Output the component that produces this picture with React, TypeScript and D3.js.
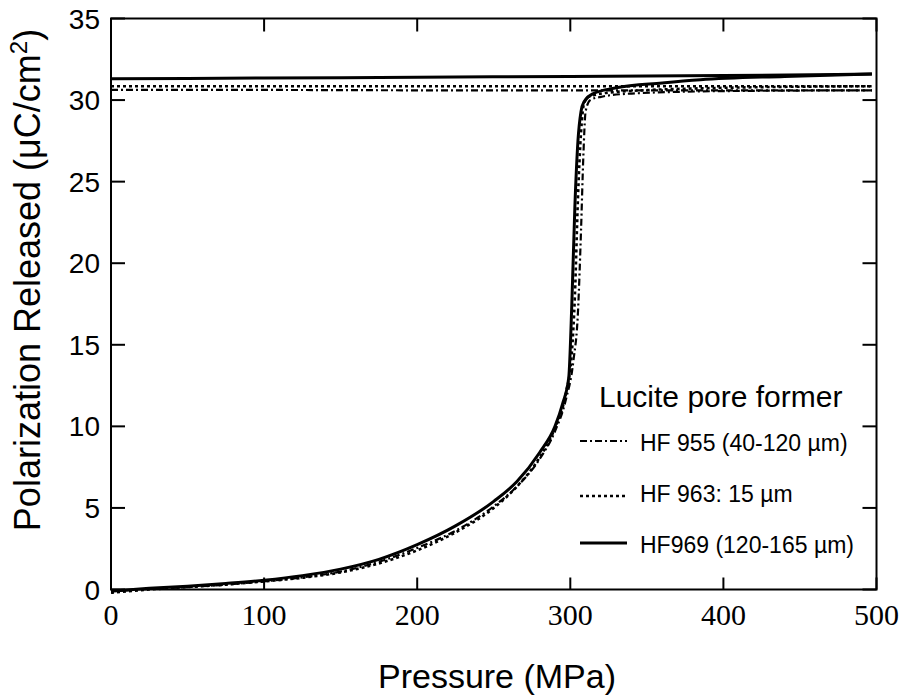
import React from "react";
import * as d3 from "d3";

// ---- data ----
const xTicks = [0, 100, 200, 300, 400, 500];
const yTicks = [0, 5, 10, 15, 20, 25, 30, 35];

// HF969 (solid) loading branch
const hf969UpP = [0, 25, 50, 75, 100, 125, 150, 175, 200, 225, 250, 265, 280, 290, 295, 299, 301, 303, 305, 307, 309, 315, 330, 360, 385, 440, 497];
const hf969UpV = [-0.1, 0.07, 0.2, 0.37, 0.57, 0.85, 1.25, 1.85, 2.75, 3.9, 5.4, 6.6, 8.4, 10.0, 11.4, 13.0, 17.5, 23.5, 27.5, 29.3, 29.9, 30.4, 30.75, 31.05, 31.25, 31.45, 31.6];
// HF969 return branch
const hf969DnP = [0, 100, 200, 300, 400, 497];
const hf969DnV = [31.3, 31.35, 31.4, 31.45, 31.5, 31.6];

// HF963 (dotted)
const hf963UpP = [0, 25, 50, 75, 100, 125, 150, 175, 200, 225, 250, 265, 280, 290, 297, 301, 303, 305, 307, 309, 312, 330, 400, 497];
const hf963UpV = [-0.2, 0.0, 0.15, 0.3, 0.5, 0.72, 1.05, 1.6, 2.4, 3.5, 5.0, 6.3, 8.1, 9.9, 12.0, 14.5, 18.0, 24.0, 28.0, 29.8, 30.2, 30.5, 30.75, 30.85];
const hf963DnP = [0, 100, 200, 300, 400, 497];
const hf963DnV = [30.85, 30.85, 30.85, 30.85, 30.85, 30.85];

// HF955 (dash-dot)
const hf955UpP = [0, 25, 50, 75, 100, 125, 150, 175, 200, 225, 250, 265, 280, 290, 297, 302, 305, 307, 308.5, 310, 313, 320, 340, 400, 497];
const hf955UpV = [-0.1, 0.03, 0.15, 0.3, 0.5, 0.74, 1.1, 1.7, 2.55, 3.6, 5.1, 6.3, 8.0, 9.7, 11.6, 14.0, 17.0, 22.0, 26.5, 29.3, 30.0, 30.2, 30.4, 30.55, 30.6];
const hf955DnP = [0, 100, 200, 300, 400, 497];
const hf955DnV = [30.62, 30.62, 30.6, 30.6, 30.6, 30.6];

const legendLabels = ["HF 955 (40-120 µm)", "HF 963: 15 µm", "HF969 (120-165 µm)"];
const legendTitle = "Lucite pore former";

// ---- layout ----
const W = 899, H = 698;
const L = 111, R = 876.5, T = 18.5, B = 589.5;

const x = d3.scaleLinear().domain([0, 500]).range([L, R]);
const y = d3.scaleLinear().domain([0, 35]).range([B, T]);

const line = d3
  .line<[number, number]>()
  .x((d) => x(d[0]))
  .y((d) => y(d[1]))
  .curve(d3.curveMonotoneX);

const zip = (a: number[], b: number[]): [number, number][] => a.map((v, i) => [v, b[i]]);

const styles = [
  { dash: "7,3,2,3", width: 2.2 },
  { dash: "3,3", width: 2.6 },
  { dash: "none", width: 3 },
];

const series = [
  { up: zip(hf955UpP, hf955UpV), dn: zip(hf955DnP, hf955DnV), st: styles[0] },
  { up: zip(hf963UpP, hf963UpV), dn: zip(hf963DnP, hf963DnV), st: styles[1] },
  { up: zip(hf969UpP, hf969UpV), dn: zip(hf969DnP, hf969DnV), st: styles[2] },
];

const sans = "'Liberation Sans', Arial, sans-serif";
const serif = "'Liberation Serif', 'Times New Roman', serif";

export default function App() {
  const legY = [441, 496, 543];
  const legTextY = [451, 502, 553];
  return (
    <svg
      width={W}
      height={H}
      viewBox={`0 0 ${W} ${H}`}
      style={{ position: "absolute", left: 0, top: 0, background: "#fff" }}
    >
      <rect x={0} y={0} width={W} height={H} fill="#fff" />
      <defs>
        <clipPath id="plotclip">
          <rect x={L} y={T - 2} width={R - L + 2} height={B - T + 8} />
        </clipPath>
      </defs>

      {/* curves */}
      <g clipPath="url(#plotclip)" fill="none" stroke="#000" strokeLinejoin="round">
        {series.map((s, i) => (
          <g key={i}>
            <path d={line(s.up) || ""} strokeWidth={s.st.width} strokeDasharray={s.st.dash} />
            <path d={line(s.dn) || ""} strokeWidth={s.st.width} strokeDasharray={s.st.dash} />
          </g>
        ))}
      </g>

      {/* frame */}
      <rect x={L} y={T} width={R - L} height={B - T} fill="none" stroke="#000" strokeWidth={2} />

      {/* x ticks (inward, bottom and top) */}
      {xTicks.map((t) => (
        <g key={"x" + t}>
          <line x1={x(t)} x2={x(t)} y1={B} y2={B - 12} stroke="#000" strokeWidth={2} />
          <line x1={x(t)} x2={x(t)} y1={T} y2={T + 13} stroke="#000" strokeWidth={2} />
          <text
            x={x(t)}
            y={625}
            textAnchor="middle"
            fontFamily={serif}
            fontSize={30}
            fill="#000"
          >
            {t}
          </text>
        </g>
      ))}

      {/* y ticks (inward, left and right) */}
      {yTicks.map((t) => (
        <g key={"y" + t}>
          <line x1={L} x2={L + 14} y1={y(t)} y2={y(t)} stroke="#000" strokeWidth={2} />
          <line x1={R} x2={R - 14} y1={y(t)} y2={y(t)} stroke="#000" strokeWidth={2} />
          <text
            x={100}
            y={y(t)}
            dy="0.36em"
            textAnchor="end"
            fontFamily={sans}
            fontSize={28}
            fill="#000"
          >
            {t}
          </text>
        </g>
      ))}

      {/* axis titles */}
      <text
        x={497}
        y={688}
        textAnchor="middle"
        fontFamily={sans}
        fontSize={34}
        fill="#000"
      >
        Pressure (MPa)
      </text>
      <text
        transform="translate(40,280) rotate(-90)"
        textAnchor="middle"
        fontFamily={sans}
        fontSize={36}
        fill="#000"
      >
        Polarization Released (μC/cm
        <tspan fontSize={24} dy={-13}>
          2
        </tspan>
        <tspan dy={13}>)</tspan>
      </text>

      {/* legend */}
      <text x={599} y={407} fontFamily={sans} fontSize={30} fill="#000">
        {legendTitle}
      </text>
      {legendLabels.map((lab, i) => (
        <g key={lab}>
          <line
            x1={580}
            x2={627}
            y1={legY[i]}
            y2={legY[i]}
            stroke="#000"
            strokeWidth={styles[i].width}
            strokeDasharray={styles[i].dash}
          />
          <text x={640} y={legTextY[i]} fontFamily={sans} fontSize={23} fill="#000">
            {lab}
          </text>
        </g>
      ))}
    </svg>
  );
}
